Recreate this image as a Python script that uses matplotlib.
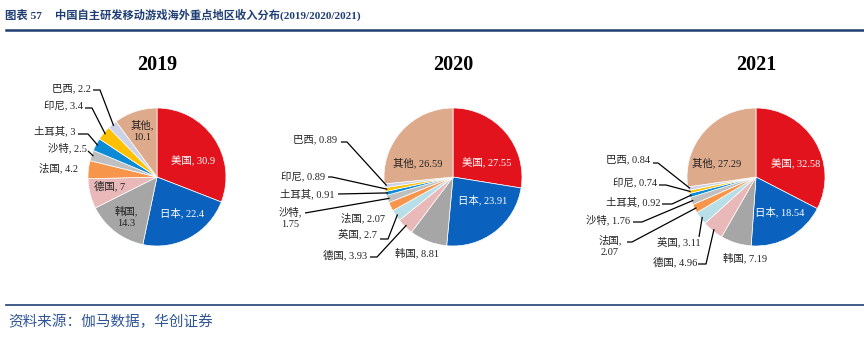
import numpy as np
import matplotlib
matplotlib.use('Agg')
import matplotlib.pyplot as plt

plt.rcParams['font.family'] = ['Liberation Serif', 'Noto Sans CJK SC', 'DejaVu Sans']

W, H = 864, 339

regions = ['美国', '日本', '韩国', '德国', '英国', '法国', '沙特', '土耳其', '印尼', '巴西', '其他']
colors = ['#E3131E', '#0A62BE', '#A6A6A6', '#E8B9B8', '#B8DEE8', '#F7964A',
          '#BFBFBF', '#0C8AD6', '#FFC000', '#CDD2E6', '#DDAA8C']

years = ['2019', '2020', '2021']
# 2019 has no separate UK figure
share_2019 = [30.9, 22.4, 14.3, 7, None, 4.2, 2.5, 3, 3.4, 2.2, 10.1]
share_2020 = [27.55, 23.91, 8.81, 3.93, 2.7, 2.07, 1.75, 0.91, 0.89, 0.89, 26.59]
share_2021 = [32.58, 18.54, 7.19, 4.96, 3.11, 2.07, 1.76, 0.92, 0.74, 0.84, 27.29]
shares = [share_2019, share_2020, share_2021]

# pie centres / radius in image pixels (y measured from the top)
centers = [(157, 177), (453, 177), (756, 177)]
R = 69

# label layout: name -> (x, y, ha, text colour, two-line?, leader start points)
layout = {
    '2019': {
        '美国': (193, 161, 'center', 'white', False, None),
        '日本': (182, 213, 'center', 'white', False, None),
        '韩国': (126, 217, 'center', '#222222', True, None),
        '德国': (110, 186, 'center', '#222222', False, None),
        '法国': (78, 168, 'right', '#222222', False, None),
        '沙特': (87, 148, 'right', '#222222', False, [(88, 151)]),
        '土耳其': (76, 131, 'right', '#222222', False, [(78, 134), (88, 134)]),
        '印尼': (83, 106, 'right', '#222222', False, [(85, 108), (92, 108)]),
        '巴西': (91, 88, 'right', '#222222', False, [(93, 90), (100, 90)]),
        '其他': (142, 131, 'center', '#222222', True, None),
    },
    '2020': {
        '美国': (487, 163, 'center', 'white', False, None),
        '日本': (483, 200, 'center', 'white', False, None),
        '韩国': (417, 253, 'center', '#222222', False, None),
        '德国': (367, 255, 'right', '#222222', False, [(370, 257), (377, 257)]),
        '英国': (377, 234, 'right', '#222222', False, [(380, 239), (388, 239)]),
        '法国': (363, 218, 'center', '#222222', False, None),
        '沙特': (290, 218, 'center', '#222222', True, [(305, 213)]),
        '土耳其': (335, 194, 'right', '#222222', False, [(338, 194)]),
        '印尼': (325, 177, 'right', '#222222', False, [(328, 177), (332, 177)]),
        '巴西': (337, 139, 'right', '#222222', False, [(341, 142), (347, 142)]),
        '其他': (418, 163, 'center', '#222222', False, None),
    },
    '2021': {
        '美国': (796, 164, 'center', 'white', False, None),
        '日本': (780, 212, 'center', 'white', False, None),
        '韩国': (745, 258, 'center', '#222222', False, None),
        '德国': (697, 262, 'right', '#222222', False, [(698, 264), (706, 264)]),
        '英国': (679, 242, 'center', '#222222', False, [(699, 237)]),
        '法国': (610, 246, 'center', '#222222', True, [(627, 242), (632, 242)]),
        '沙特': (630, 220, 'right', '#222222', False, [(633, 222), (642, 222)]),
        '土耳其': (660, 202, 'right', '#222222', False, [(662, 204), (672, 204)]),
        '印尼': (657, 183, 'right', '#222222', False, [(659, 185), (666, 185)]),
        '巴西': (650, 159, 'right', '#222222', False, [(653, 163), (658, 163)]),
        '其他': (717, 163, 'center', '#222222', False, None),
    },
}


def fy(y):
    return H - y


fig = plt.figure(figsize=(W / 100, H / 100), dpi=100)
ax = fig.add_axes([0, 0, 1, 1])

for year, vals, (cx, cy) in zip(years, shares, centers):
    names = [n for n, v in zip(regions, vals) if v is not None]
    cols = [c for c, v in zip(colors, vals) if v is not None]
    v = [x for x in vals if x is not None]
    wedges, _ = ax.pie(v, colors=cols, startangle=90, counterclock=False,
                       center=(cx, fy(cy)), radius=R,
                       wedgeprops=dict(edgecolor='white', linewidth=0.5))
    ax.text(cx, fy(65), year, ha='center', va='center', fontsize=14.5,
            fontweight='bold', color='black')
    for name, val, w in zip(names, v, wedges):
        tx, ty, ha, tc, two, pts = layout[year][name]
        if two:
            # two stacked lines: name on top, value below
            ax.text(tx, fy(ty - 6.5), f'{name},', ha=ha, va='center',
                    fontsize=7.5, color=tc)
            ax.text(tx, fy(ty + 6.5), f'{val:g}', ha=ha, va='center',
                    fontsize=7.5, color=tc)
        else:
            ax.text(tx, fy(ty), f'{name}, {val:g}', ha=ha, va='center',
                    fontsize=7.5, color=tc)
        if pts:
            mid = np.deg2rad((w.theta1 + w.theta2) / 2)
            ax_, ay_ = cx + 0.97 * R * np.cos(mid), fy(cy) + 0.97 * R * np.sin(mid)
            xs = [p[0] for p in pts] + [ax_]
            ys = [fy(p[1]) for p in pts] + [ay_]
            ax.plot(xs, ys, color='black', lw=0.9, solid_capstyle='butt')

ax.set_xlim(0, W)
ax.set_ylim(0, H)
ax.set_aspect('auto')
ax.axis('off')

# header
navy = '#1F3F74'
ax.text(5, fy(15), '图表 57', ha='left', va='center', fontsize=8.2,
        fontweight='bold', color=navy)
ax.text(55, fy(15), '中国自主研发移动游戏海外重点地区收入分布(2019/2020/2021)',
        ha='left', va='center', fontsize=8.1, fontweight='bold', color=navy)
ax.plot([6, W], [fy(30), fy(30)], color=navy, lw=1.8)

# footer
ax.plot([6, W], [fy(305), fy(305)], color=navy, lw=1.2)
ax.text(8, fy(322), '资料来源：伽马数据，华创证券', ha='left', va='center',
        fontsize=10.5, color='#2F5597', style='italic')

fig.savefig('out.png', dpi=100)
plt.close()
